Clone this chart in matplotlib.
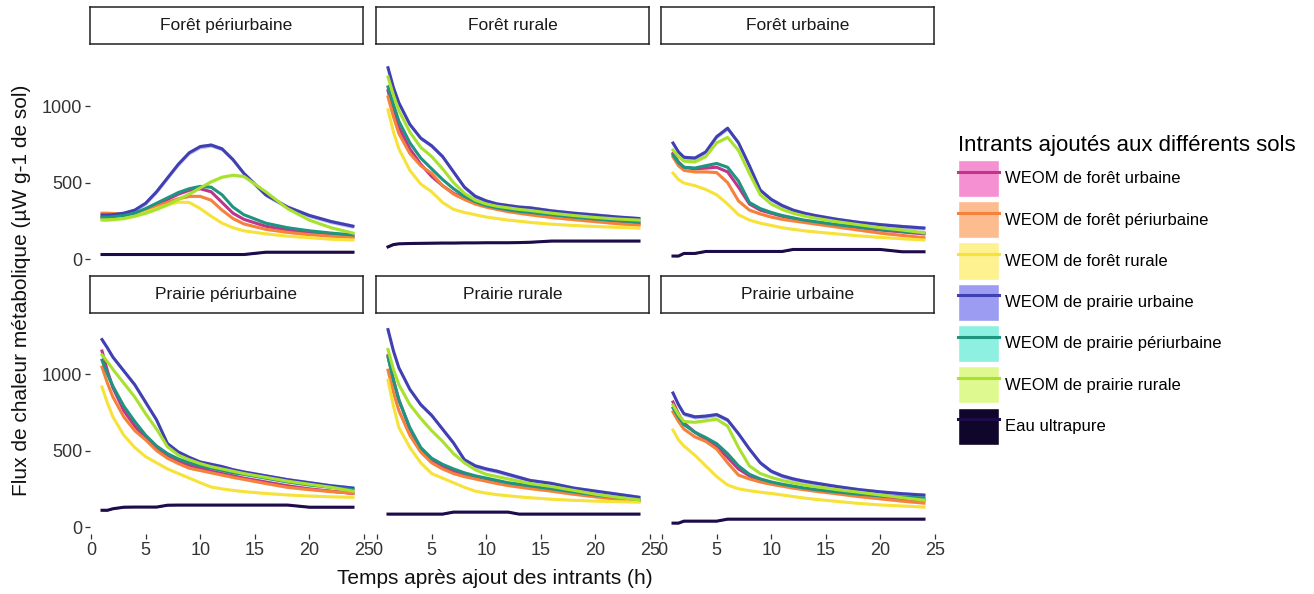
import matplotlib
matplotlib.use("Agg")
import matplotlib.pyplot as plt
from matplotlib.patches import Patch
from matplotlib.lines import Line2D
from matplotlib.legend_handler import HandlerTuple

plt.rcParams['font.family'] = ['Liberation Sans', 'DejaVu Sans']

# hours after input
hours = [1, 1.5, 2, 3, 4, 5, 6, 7, 8, 9, 10, 11, 12, 13, 14, 16, 18, 20, 22, 24]

inputs = ['WEOM de forêt urbaine', 'WEOM de forêt périurbaine', 'WEOM de forêt rurale',
          'WEOM de prairie urbaine', 'WEOM de prairie périurbaine', 'WEOM de prairie rurale',
          'Eau ultrapure']
line_colors = ['#BE3589', '#F5813C', '#F7E23A', '#4040B2', '#1F9480', '#A8E22F', '#1E0B4A']
fill_colors = ['#F590D2', '#FDBC90', '#FEF18F', '#9C9CF2', '#8DF0E0', '#DEF98F', '#10052A']
band = [8, 8, 6, 14, 8, 10, 4]   # half width of the error band

soils = ['Forêt périurbaine', 'Forêt rurale', 'Forêt urbaine',
         'Prairie périurbaine', 'Prairie rurale', 'Prairie urbaine']

# heat flux (µW g-1 of soil), one list per input, in the order of `inputs`
foret_periurbaine = [
    [270, 270, 272, 280, 295, 320, 355, 390, 425, 450, 460, 440, 370, 300, 260, 215, 190, 170, 155, 145],
    [300, 300, 298, 295, 300, 320, 345, 370, 395, 410, 410, 385, 320, 265, 230, 195, 175, 160, 150, 142],
    [262, 262, 265, 270, 285, 305, 330, 355, 372, 370, 330, 280, 235, 205, 185, 165, 150, 140, 130, 125],
    [288, 288, 290, 300, 320, 365, 440, 530, 620, 695, 735, 745, 720, 650, 560, 420, 340, 285, 245, 215],
    [275, 275, 277, 285, 300, 330, 365, 400, 435, 460, 475, 470, 420, 340, 290, 235, 205, 185, 170, 158],
    [255, 255, 258, 265, 280, 300, 325, 355, 390, 425, 465, 505, 535, 548, 540, 440, 330, 255, 205, 170],
    [30, 30, 30, 30, 30, 30, 30, 30, 30, 30, 30, 30, 30, 30, 30, 45, 45, 45, 45, 45],
]
foret_rurale = [
    [1100, 970, 860, 720, 620, 540, 480, 430, 395, 365, 345, 328, 315, 305, 295, 280, 265, 252, 240, 230],
    [1060, 930, 820, 690, 610, 560, 480, 425, 390, 360, 340, 325, 310, 300, 290, 272, 258, 245, 232, 222],
    [975, 830, 720, 580, 490, 440, 370, 325, 305, 290, 275, 265, 255, 248, 240, 228, 220, 213, 208, 203],
    [1250, 1120, 1020, 880, 790, 740, 670, 570, 470, 410, 380, 360, 350, 340, 335, 315, 300, 288, 275, 265],
    [1125, 1010, 900, 760, 660, 590, 520, 460, 410, 375, 350, 335, 322, 312, 305, 290, 275, 262, 252, 242],
    [1190, 1070, 970, 830, 730, 670, 590, 500, 430, 385, 360, 345, 335, 325, 318, 300, 285, 272, 262, 255],
    [80, 95, 100, 102, 103, 104, 105, 105, 106, 106, 107, 107, 107, 108, 110, 118, 118, 118, 118, 118],
]
foret_urbaine = [
    [690, 635, 600, 590, 595, 600, 570, 470, 360, 320, 300, 280, 265, 250, 240, 220, 205, 190, 178, 165],
    [667, 610, 580, 570, 570, 565, 500, 380, 320, 295, 275, 260, 250, 240, 230, 210, 190, 170, 155, 140],
    [562, 520, 497, 480, 455, 420, 360, 290, 255, 235, 220, 205, 195, 185, 178, 165, 152, 142, 133, 125],
    [758, 700, 665, 660, 700, 800, 855, 760, 610, 450, 390, 350, 320, 300, 285, 260, 240, 225, 213, 203],
    [680, 630, 600, 595, 610, 625, 600, 510, 370, 330, 305, 285, 270, 255, 245, 225, 210, 195, 182, 170],
    [712, 670, 640, 635, 670, 760, 795, 710, 560, 420, 360, 325, 300, 282, 268, 245, 225, 205, 190, 172],
    [20, 20, 37, 37, 50, 50, 50, 50, 50, 50, 50, 50, 63, 63, 63, 63, 63, 63, 48, 48],
]
prairie_periurbaine = [
    [1150, 1020, 910, 760, 660, 580, 510, 460, 430, 405, 385, 365, 350, 335, 320, 295, 270, 250, 235, 220],
    [1045, 940, 850, 720, 630, 570, 500, 450, 415, 385, 370, 355, 340, 325, 312, 285, 260, 245, 232, 222],
    [915, 810, 720, 600, 520, 460, 420, 380, 350, 320, 290, 262, 250, 240, 232, 220, 210, 203, 198, 195],
    [1225, 1170, 1110, 1020, 930, 815, 700, 545, 490, 455, 425, 410, 395, 375, 360, 335, 310, 290, 270, 255],
    [1090, 1000, 920, 790, 690, 600, 530, 480, 445, 420, 400, 385, 370, 355, 345, 320, 295, 275, 260, 245],
    [1125, 1080, 1030, 940, 850, 740, 640, 525, 470, 440, 415, 395, 380, 365, 350, 325, 300, 280, 260, 235],
    [110, 110, 120, 130, 131, 131, 131, 143, 144, 144, 144, 144, 144, 144, 144, 144, 144, 130, 130, 130],
]
prairie_rurale = [
    [1120, 960, 830, 640, 510, 440, 395, 365, 340, 320, 305, 290, 280, 268, 258, 240, 222, 205, 190, 175],
    [1025, 880, 760, 600, 490, 420, 380, 350, 330, 315, 300, 285, 272, 262, 252, 235, 215, 198, 182, 168],
    [960, 790, 650, 520, 420, 350, 320, 290, 260, 235, 222, 212, 205, 198, 192, 182, 175, 170, 166, 163],
    [1290, 1150, 1040, 900, 800, 730, 640, 550, 440, 400, 380, 365, 345, 325, 305, 285, 255, 235, 215, 195],
    [1110, 960, 830, 650, 520, 450, 410, 380, 355, 335, 320, 305, 290, 280, 270, 250, 230, 210, 195, 180],
    [1160, 1030, 930, 800, 710, 630, 560, 480, 420, 375, 345, 330, 315, 300, 285, 265, 240, 215, 195, 178],
    [85, 85, 85, 85, 85, 85, 85, 98, 98, 98, 98, 98, 98, 85, 85, 85, 85, 85, 85, 85],
]
prairie_urbaine = [
    [817, 740, 680, 620, 575, 525, 455, 380, 335, 305, 290, 275, 262, 250, 240, 225, 212, 200, 185, 175],
    [752, 690, 640, 590, 560, 510, 420, 340, 315, 295, 280, 268, 255, 245, 235, 218, 200, 185, 170, 157],
    [634, 570, 530, 470, 400, 330, 275, 250, 238, 228, 220, 210, 200, 190, 182, 168, 155, 145, 138, 131],
    [876, 800, 740, 720, 725, 735, 700, 610, 510, 420, 365, 335, 315, 300, 288, 265, 245, 230, 218, 209],
    [778, 720, 670, 620, 585, 545, 480, 400, 345, 315, 295, 280, 268, 256, 246, 230, 215, 205, 196, 190],
    [797, 735, 690, 685, 695, 705, 660, 520, 400, 350, 325, 305, 290, 275, 265, 245, 228, 210, 192, 176],
    [26, 26, 39, 39, 39, 39, 52, 52, 52, 52, 52, 52, 52, 52, 52, 52, 52, 52, 52, 52],
]
panels = [foret_periurbaine, foret_rurale, foret_urbaine,
          prairie_periurbaine, prairie_rurale, prairie_urbaine]

W, H = 1314, 594
fig = plt.figure(figsize=(W / 100, H / 100), dpi=100)

col_left = [90, 376, 661]
ax_w = 275
row_top = [48.6, 316.6]
ax_h = 217.4
strip_top = [7, 276]
strip_h = 37

for i, (soil, series) in enumerate(zip(soils, panels)):
    r, c = divmod(i, 3)
    ax = fig.add_axes([col_left[c] / W, 1 - (row_top[r] + ax_h) / H, ax_w / W, ax_h / H])
    for k, vals in enumerate(series):
        lo = [v - band[k] for v in vals]
        hi = [v + band[k] for v in vals]
        ax.fill_between(hours, lo, hi, color=fill_colors[k], alpha=0.7, lw=0)
        ax.plot(hours, vals, color=line_colors[k], lw=2.2, solid_joinstyle='round')
    ax.set_xlim(-0.1, 25.1)
    ax.set_ylim(-45, 1375)
    ax.set_xticks([0, 5, 10, 15, 20, 25])
    ax.set_yticks([0, 500, 1000])
    for s in ax.spines.values():
        s.set_visible(False)
    ax.tick_params(length=3.5, width=0.9, color='#333333', labelcolor='#333333',
                   labelsize=13, pad=2)
    if r == 0:
        ax.tick_params(axis='x', bottom=False, labelbottom=False)
    if c != 0:
        ax.tick_params(axis='y', left=False, labelleft=False)

    sax = fig.add_axes([col_left[c] / W, 1 - (strip_top[r] + strip_h) / H, (ax_w - 2) / W, strip_h / H])
    sax.set_xticks([])
    sax.set_yticks([])
    for s in sax.spines.values():
        s.set_linewidth(1.1)
        s.set_color('#222222')
    sax.text(0.5, 0.5, soil, ha='center', va='center', fontsize=12.5, color='#1a1a1a')

fig.text(495 / W, 1 - 578 / H, 'Temps après ajout des intrants (h)', ha='center', va='center',
         fontsize=15, color='#111111')
fig.text(22 / W, 1 - 290 / H, 'Flux de chaleur métabolique (µW g-1 de sol)', ha='center', va='center',
         rotation=90, fontsize=15, color='#111111')

handles = [(Patch(facecolor=fill_colors[k], edgecolor='white'),
            Line2D([], [], color=line_colors[k], lw=2.2)) for k in range(len(inputs))]
leg = fig.legend(handles, inputs, loc='upper left', bbox_to_anchor=(946 / W, 1 - 123 / H),
                 title='Intrants ajoutés aux différents sols', title_fontsize=16, fontsize=12,
                 frameon=False, handler_map={tuple: HandlerTuple(ndivide=1, pad=0)},
                 handlelength=2.5, handleheight=3.05, labelspacing=0.25, handletextpad=0.35,
                 borderpad=0.2)
leg._legend_box.align = 'left'

fig.savefig('out.png', dpi=100)
